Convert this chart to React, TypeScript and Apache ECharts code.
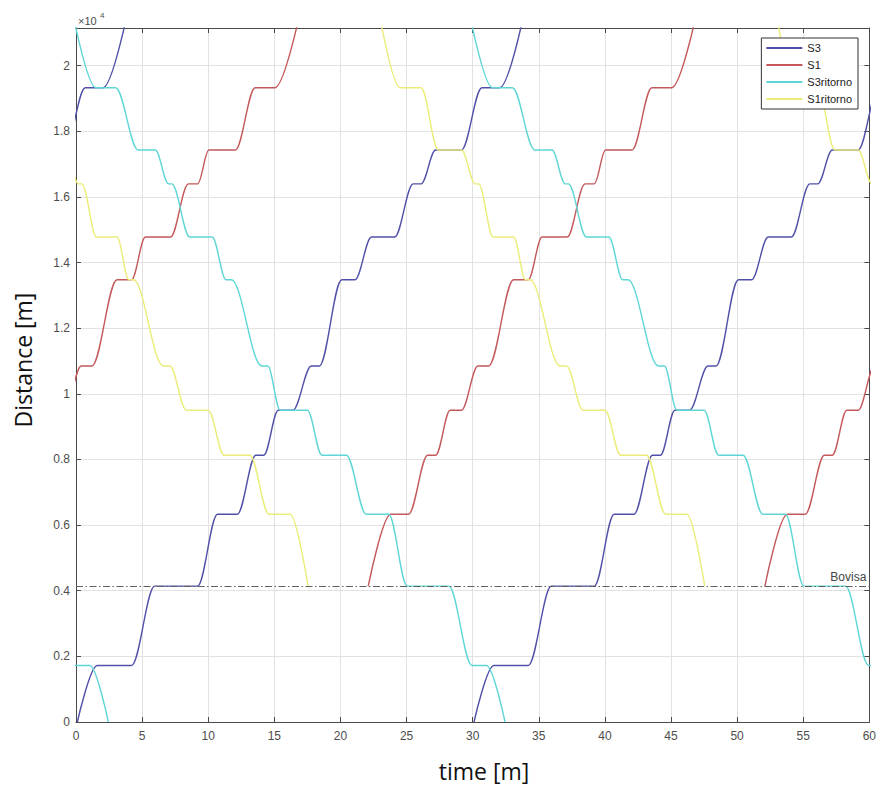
import React, { useEffect, useRef } from "react";
import * as echarts from "echarts";

// ---- data (time in minutes, distance in metres) ----
const TRIP_OFFSETS = [-30, 0, 30]; // services repeat every 30 minutes
const X_MIN = 0;
const X_MAX = 60;
const X_INTERVAL = 5;
const Y_MIN = 0;
const Y_MAX = 21150;
const Y_INTERVAL = 2000;
const BOVISA = 4140;

// S3 (outbound, from 0 upwards)
const S3_T = [0.1, 1.6, 4.2, 5.95, 9.2, 10.7, 12.2, 13.6, 14.2, 15.3, 16.4, 17.8, 18.4, 20.1, 21.1, 22.35, 24.1, 25.5, 26.1, 27.2, 29.15, 30.7, 32.05, 34.1];
const S3_D = [0, 1720, 1720, 4140, 4140, 6330, 6330, 8130, 8130, 9500, 9500, 10850, 10850, 13480, 13480, 14780, 14780, 16400, 16400, 17430, 17430, 19330, 19330, 22000];

// S1 (outbound, from Bovisa upwards)
const S1_T = [22.1, 23.8, 25.15, 26.6, 27.2, 28.3, 29.15, 30.4, 31.2, 33.1, 34.2, 35.25, 37.15, 38.5, 39.2, 40.05, 42.05, 43.55, 45.05, 47.15];
const S1_D = [4140, 6330, 6330, 8130, 8130, 9500, 9500, 10850, 10850, 13480, 13480, 14780, 14780, 16400, 16400, 17430, 17430, 19330, 19330, 22000];

// S3 ritorno (return, down to 0)
const S3R_T = [-0.45, 1.5, 3.0, 4.7, 6.0, 7.0, 7.25, 8.6, 10.3, 11.35, 11.75, 14.05, 14.5, 15.45, 17.5, 18.6, 20.45, 21.95, 23.65, 25.05, 28.2, 29.95, 31.05, 32.45];
const S3R_D = [22000, 19330, 19330, 17430, 17430, 16400, 16400, 14780, 14780, 13480, 13480, 10850, 10850, 9500, 9500, 8130, 8130, 6330, 6330, 4140, 4140, 1720, 1720, 0];

// S1 ritorno (return, down to Bovisa)
const S1R_T = [22.75, 24.5, 26.1, 27.4, 29.15, 30.2, 30.45, 31.55, 33.1, 34.0, 34.35, 36.6, 37.1, 38.35, 40.0, 41.2, 43.15, 44.6, 46.2, 47.55];
const S1R_D = [22000, 19330, 19330, 17430, 17430, 16400, 16400, 14780, 14780, 13480, 13480, 10850, 10850, 9500, 9500, 8130, 8130, 6330, 6330, 4140];

const SERIES_NAMES = ["S3", "S1", "S3ritorno", "S1ritorno"];
const SERIES_COLORS = ["#5050a8", "#c4585a", "#5ed6d6", "#ecec78"];

const FRAME = "#4a4a4a";
const GRIDC = "#e2e2e2";
const TICKFONT = "'Liberation Sans', Arial, sans-serif";

function tripSeries(name: string, color: string, T: number[], D: number[], extra: any = {}) {
  return TRIP_OFFSETS.map((off, k) => ({
    name,
    type: "line",
    data: T.map((t, i) => [t + off, D[i]]),
    smooth: 0.35,
    smoothMonotone: "x",
    showSymbol: false,
    symbol: "none",
    clip: true,
    silent: true,
    lineStyle: { color, width: 1.4 },
    itemStyle: { color },
    emphasis: { disabled: true },
    ...(k === 0 ? extra : {}),
  }));
}

export default function App() {
  const ref = useRef<HTMLDivElement>(null);

  useEffect(() => {
    if (!ref.current) return;
    const chart = echarts.init(ref.current, undefined, { renderer: "svg" });

    const bovisaMark = {
      markLine: {
        silent: true,
        symbol: "none",
        animation: false,
        lineStyle: { color: "#606060", width: 1, type: [7, 2.5, 1.5, 2.5] },
        label: {
          show: true,
          position: "insideEndTop",
          formatter: "Bovisa",
          color: "#444",
          fontSize: 12,
          fontFamily: TICKFONT,
          distance: 3,
        },
        data: [{ yAxis: BOVISA }],
      },
    };

    const series: any[] = [
      ...tripSeries(SERIES_NAMES[0], SERIES_COLORS[0], S3_T, S3_D),
      ...tripSeries(SERIES_NAMES[1], SERIES_COLORS[1], S1_T, S1_D),
      ...tripSeries(SERIES_NAMES[2], SERIES_COLORS[2], S3R_T, S3R_D),
      ...tripSeries(SERIES_NAMES[3], SERIES_COLORS[3], S1R_T, S1R_D, bovisaMark),
    ];

    const commonX = {
      type: "value",
      min: X_MIN,
      max: X_MAX,
      interval: X_INTERVAL,
    };
    const commonY = {
      type: "value",
      min: Y_MIN,
      max: Y_MAX,
      interval: Y_INTERVAL,
    };

    chart.setOption({
      animation: false,
      backgroundColor: "#ffffff",
      grid: { left: 76, right: 9, top: 28, bottom: 65, containLabel: false },
      legend: {
        data: SERIES_NAMES,
        orient: "vertical",
        right: 21,
        top: 38,
        itemWidth: 36,
        itemHeight: 2,
        itemGap: 5,
        icon: "rect",
        backgroundColor: "#ffffff",
        borderColor: "#333",
        borderWidth: 1,
        borderRadius: 0,
        padding: [4, 6, 4, 5],
        selectedMode: false,
        textStyle: { fontSize: 11, color: "#222", fontFamily: TICKFONT, lineHeight: 12 },
      },
      xAxis: [
        {
          ...commonX,
          position: "bottom",
          axisLine: { show: true, onZero: false, lineStyle: { color: FRAME, width: 1 } },
          axisTick: { show: true, inside: true, length: 5, lineStyle: { color: FRAME } },
          axisLabel: { color: "#4d4d4d", fontSize: 12, fontFamily: TICKFONT, margin: 8 },
          splitLine: { show: true, lineStyle: { color: GRIDC, width: 1 } },
        },
        {
          ...commonX,
          position: "top",
          axisLine: { show: true, onZero: false, lineStyle: { color: FRAME, width: 1 } },
          axisTick: { show: true, inside: true, length: 5, lineStyle: { color: FRAME } },
          axisLabel: { show: false },
          splitLine: { show: false },
        },
      ],
      yAxis: [
        {
          ...commonY,
          position: "left",
          axisLine: { show: true, onZero: false, lineStyle: { color: FRAME, width: 1 } },
          axisTick: {
            show: true,
            inside: true,
            length: 5,
            lineStyle: { color: FRAME },
          },
          axisLabel: {
            color: "#4d4d4d",
            fontSize: 12,
            fontFamily: TICKFONT,
            margin: 6,
            showMaxLabel: false,
            formatter: (v: number) => (v % Y_INTERVAL === 0 ? String(+(v / 10000).toFixed(1)) : ""),
          },
          splitLine: { show: true, lineStyle: { color: GRIDC, width: 1 } },
        },
        {
          ...commonY,
          position: "right",
          axisLine: { show: true, onZero: false, lineStyle: { color: FRAME, width: 1 } },
          axisTick: { show: true, inside: true, length: 5, lineStyle: { color: FRAME } },
          axisLabel: { show: false },
          splitLine: { show: false },
        },
      ],
      graphic: [
        {
          type: "text",
          x: 78,
          y: 21,
          style: {
            text: "×10",
            fontSize: 11,
            fontFamily: TICKFONT,
            fill: "#4d4d4d",
            textVerticalAlign: "middle",
          },
        },
        {
          type: "text",
          x: 100,
          y: 15,
          style: {
            text: "4",
            fontSize: 8,
            fontFamily: TICKFONT,
            fill: "#4d4d4d",
            textVerticalAlign: "middle",
          },
        },
        {
          type: "text",
          x: 23,
          y: 360,
          rotation: Math.PI / 2,
          style: {
            text: "Distance [m]",
            fontSize: 23,
            fontFamily: "'Open Sans', sans-serif",
            fill: "#111",
            textAlign: "center",
            textVerticalAlign: "middle",
          },
        },
        {
          type: "text",
          x: 484,
          y: 771,
          style: {
            text: "time [m]",
            fontSize: 23,
            fontFamily: "'Open Sans', sans-serif",
            fill: "#111",
            textAlign: "center",
            textVerticalAlign: "middle",
          },
        },
      ],
      series,
    });

    return () => {
      chart.dispose();
    };
  }, []);

  return (
    <div
      ref={ref}
      style={{ position: "fixed", left: 0, top: 0, width: 879, height: 787, background: "#fff" }}
    />
  );
}
